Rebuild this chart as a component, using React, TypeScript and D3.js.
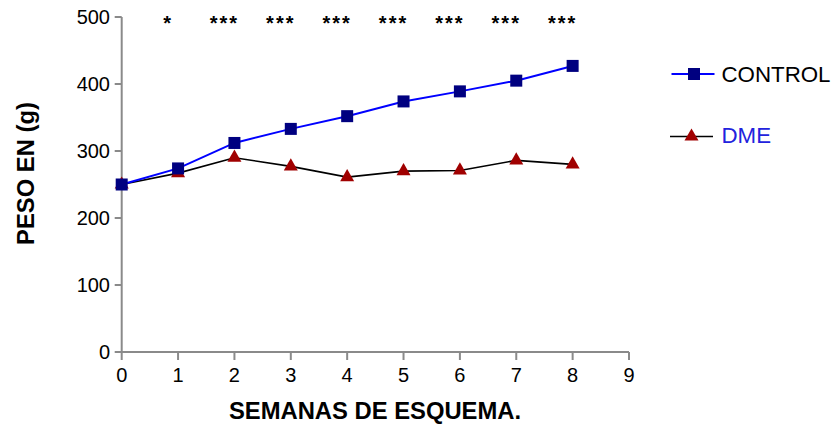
import React from "react";
import * as d3 from "d3";

const weeks = [0, 1, 2, 3, 4, 5, 6, 7, 8];
const controlValues = [250, 274, 312, 333, 352, 374, 389, 405, 427];
const dmeValues = [250, 267, 290, 277, 261, 270, 271, 286, 280];
const xTicks = [0, 1, 2, 3, 4, 5, 6, 7, 8, 9];
const yTicks = [0, 100, 200, 300, 400, 500];
const sigWeeks = [1, 2, 3, 4, 5, 6, 7, 8];
const sigLabels = ["*", "***", "***", "***", "***", "***", "***", "***"];
const seriesNames = ["CONTROL", "DME"];

const W = 835;
const H = 428;
const FONT = "'Liberation Sans', Arial, sans-serif";

export default function App() {
  const x = d3.scaleLinear().domain([0, 9]).range([121.7, 629]);
  const y = d3.scaleLinear().domain([0, 500]).range([352, 17]);
  const line = d3
    .line<number>()
    .x((_, i) => x(weeks[i]))
    .y((d) => y(d));
  const tri = d3.symbol().type(d3.symbolTriangle).size(85);
  const axisColor = "#8a8a8a";

  return (
    <div style={{ position: "fixed", left: 0, top: 0 }}>
      <svg width={W} height={H} style={{ display: "block", background: "#fff" }} fontFamily={FONT}>
        {/* axes */}
        <line x1={x(0)} x2={x(0)} y1={y(0)} y2={y(500)} stroke={axisColor} strokeWidth={2} />
        <line x1={x(0)} x2={x(9)} y1={y(0)} y2={y(0)} stroke={axisColor} strokeWidth={2} />
        {yTicks.map((t) => (
          <g key={"y" + t}>
            <line x1={x(0) - 7} x2={x(0)} y1={y(t)} y2={y(t)} stroke={axisColor} strokeWidth={2} />
            <text x={110} y={y(t)} dy="0.36em" textAnchor="end" fontSize={20} fill="#000">
              {t}
            </text>
          </g>
        ))}
        {xTicks.map((t) => (
          <g key={"x" + t}>
            <line x1={x(t)} x2={x(t)} y1={y(0)} y2={y(0) + 8} stroke={axisColor} strokeWidth={2} />
            <text x={x(t)} y={381.7} textAnchor="middle" fontSize={20} fill="#000">
              {t}
            </text>
          </g>
        ))}
        {/* axis titles */}
        <text x={375} y={419.3} textAnchor="middle" fontSize={23.8} fontWeight="bold" fill="#000">
          SEMANAS DE ESQUEMA.
        </text>
        <text
          transform={`translate(33.5,173.5) rotate(-90)`}
          textAnchor="middle"
          fontSize={23.8}
          fontWeight="bold"
          fill="#000"
        >
          PESO EN (g)
        </text>
        {/* significance */}
        {sigWeeks.map((w, i) => (
          <text
            key={"s" + w}
            x={x(w) - 10}
            y={30}
            textAnchor="middle"
            fontSize={20}
            fontWeight="bold"
            letterSpacing={2}
            fill="#000"
          >
            {sigLabels[i]}
          </text>
        ))}
        {/* DME series */}
        <path d={line(dmeValues) || ""} fill="none" stroke="#000" strokeWidth={1.6} />
        {dmeValues.map((v, i) => (
          <path key={"d" + i} d={tri() || ""} transform={`translate(${x(weeks[i])},${y(v)})`} fill="#a00000" />
        ))}
        {/* CONTROL series */}
        <path d={line(controlValues) || ""} fill="none" stroke="#0000ff" strokeWidth={2} />
        {controlValues.map((v, i) => (
          <rect key={"c" + i} x={x(weeks[i]) - 6} y={y(v) - 6} width={12} height={12} fill="#000080" />
        ))}
        {/* legend */}
        <line x1={671.5} x2={714.5} y1={74} y2={74} stroke="#0000ff" strokeWidth={2} />
        <rect x={688} y={68} width={12} height={12} fill="#000080" />
        <text x={721.5} y={81.7} fontSize={22.3} fill="#000">
          {seriesNames[0]}
        </text>
        <line x1={670} x2={713} y1={136.5} y2={136.5} stroke="#000" strokeWidth={1.6} />
        <path d={tri() || ""} transform="translate(691.5,136.5)" fill="#a00000" />
        <text x={721.5} y={143.3} fontSize={22.3} fill="#2222dd">
          {seriesNames[1]}
        </text>
      </svg>
    </div>
  );
}
